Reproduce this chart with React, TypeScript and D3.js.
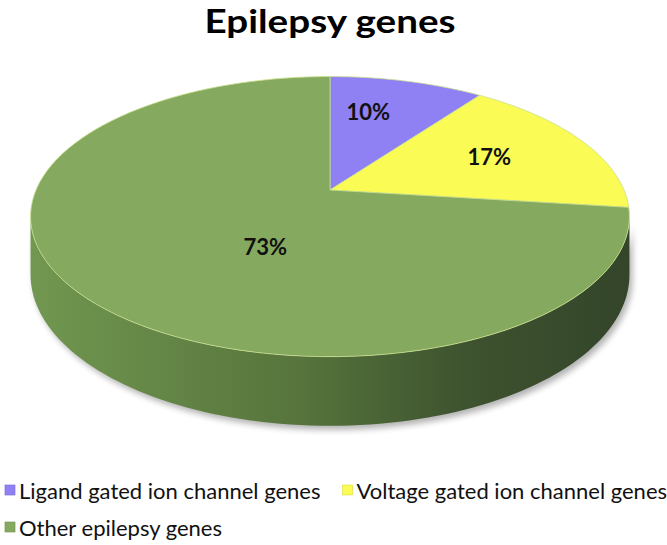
import { useEffect, useRef } from 'react'
import * as d3 from 'd3'

const categories = ['Ligand gated ion channel genes', 'Voltage gated ion channel genes', 'Other epilepsy genes']
const values = [10, 17, 73]
const labels = ['10%', '17%', '73%']
const colors = ['#8f80f3', '#fbfb56', '#84a95f']

export default function App() {
  const svgRef = useRef<SVGSVGElement>(null)

  useEffect(() => {
    const width = 667, height = 545
    const svg = d3.select(svgRef.current)
    svg.selectAll('*').remove()
    svg.attr('width', width).attr('height', height).style('background', '#fff')

    // perspective projection of the tilted disc
    const cx = 330, cy = 190, A = 294, B = 135, p = 0.19, T = 56
    const project = (a: number, r = 1): [number, number] => {
      const X = r * Math.sin(a), Z = r * Math.cos(a)
      const d = 1 + p * Z
      return [cx + (A * X) / d, cy - (B * Z) / d]
    }
    const projectBottom = (a: number): [number, number] => {
      const [x, y] = project(a)
      const d = 1 + p * Math.cos(a)
      return [x, y + T / d]
    }
    const sample = (a0: number, a1: number, f: (a: number) => [number, number]) =>
      d3.range(0, 101).map(i => f(a0 + ((a1 - a0) * i) / 100))

    const line = d3.line().curve(d3.curveLinear)

    const defs = svg.append('defs')
    const grad = defs.append('linearGradient').attr('id', 'side')
      .attr('gradientUnits', 'userSpaceOnUse')
      .attr('x1', cx - A * 1.02).attr('x2', cx + A * 1.02).attr('y1', 0).attr('y2', 0)
    grad.append('stop').attr('offset', 0).attr('stop-color', '#719750')
    grad.append('stop').attr('offset', 0.45).attr('stop-color', '#56743c')
    grad.append('stop').attr('offset', 0.72).attr('stop-color', '#3e532f')
    grad.append('stop').attr('offset', 1).attr('stop-color', '#34452a')

    const blur = defs.append('filter').attr('id', 'shadow')
      .attr('x', '-10%').attr('y', '-10%').attr('width', '120%').attr('height', '130%')
    blur.append('feGaussianBlur').attr('stdDeviation', 3)

    // side of the cylinder (front half only)
    const aR = Math.acos(-p)
    const aL = 2 * Math.PI - aR
    const sidePts = [...sample(aR, aL, a => project(a)), ...sample(aL, aR, projectBottom)]

    svg.append('path')
      .attr('d', line(sidePts.map(([x, y]) => [x + 3, y + 4]) as [number, number][]) + 'Z')
      .attr('fill', '#000').attr('opacity', 0.3).attr('filter', 'url(#shadow)')

    svg.append('path')
      .attr('d', line(sidePts) + 'Z')
      .attr('fill', 'url(#side)')

    // top face slices
    const pie = d3.pie<number>().sort(null).value(d => d)
    const arcs = pie(values)
    const polys = arcs.map(a => [[cx, cy] as [number, number], ...sample(a.startAngle, a.endAngle, t => project(t))])

    svg.selectAll('.slice')
      .data(arcs)
      .enter()
      .append('path')
      .attr('class', 'slice')
      .attr('d', (_, i) => line(polys[i]) + 'Z')
      .attr('fill', (_, i) => colors[i])
      .attr('stroke', '#c9e08e')
      .attr('stroke-width', 0.8)
      .attr('stroke-linejoin', 'round')

    // percentage labels near slice centroids (Excel nudges them a bit)
    const nudge = [[-13, -7], [-5, -5], [-31, 12]]
    svg.selectAll('.lbl')
      .data(arcs)
      .enter()
      .append('text')
      .attr('class', 'lbl')
      .attr('x', (_, i) => d3.polygonCentroid(polys[i])[0] + nudge[i][0])
      .attr('y', (_, i) => d3.polygonCentroid(polys[i])[1] + nudge[i][1])
      .attr('text-anchor', 'middle')
      .attr('dominant-baseline', 'central')
      .attr('font-family', 'Lato, sans-serif')
      .attr('font-weight', 'bold')
      .attr('font-size', 22)
      .attr('fill', '#111')
      .text((_, i) => labels[i])

    svg.append('text')
      .attr('x', 330).attr('y', 33)
      .attr('text-anchor', 'middle')
      .attr('font-family', 'Lato, sans-serif')
      .attr('font-weight', 'bold')
      .attr('font-size', 32)
      .attr('textLength', 251)
      .attr('lengthAdjust', 'spacingAndGlyphs')
      .attr('fill', '#000')
      .text('Epilepsy genes')

    // legend, wraps like the original
    const legend = svg.append('g').attr('font-family', 'Lato, sans-serif').attr('font-size', 22)
    const gap = 22
    let lx = 5, ly = 490
    categories.forEach((c, i) => {
      const g = legend.append('g')
      const t = g.append('text').attr('x', 14).attr('y', 0).attr('dominant-baseline', 'central')
        .attr('fill', '#111').text(c)
      const w = 14 + (t.node() as SVGTextElement).getComputedTextLength()
      if (lx + w > width + 2) { lx = 5; ly += 37 }
      g.attr('transform', `translate(${lx},${ly})`)
      g.insert('rect', 'text').attr('x', 0).attr('y', -5).attr('width', 10).attr('height', 10)
        .attr('fill', colors[i]).attr('stroke', d3.color(colors[i])!.darker(0.3).toString()).attr('stroke-width', 0.7)
      lx += w + gap
    })
  }, [])

  return (
    <div style={{ position: 'absolute', left: 0, top: 0 }}>
      <svg ref={svgRef} />
    </div>
  )
}
